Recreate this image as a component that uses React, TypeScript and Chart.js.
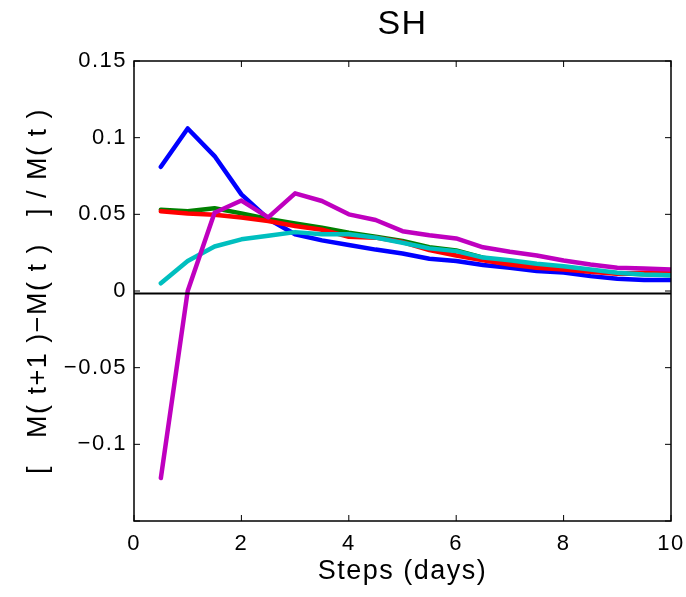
import React, { useEffect, useRef } from 'react';
import { Chart, registerables } from 'chart.js';

Chart.register(...registerables);

// ---- data ----
const steps = [0.5, 1, 1.5, 2, 2.5, 3, 3.5, 4, 4.5, 5, 5.5, 6, 6.5, 7, 7.5, 8, 8.5, 9, 9.5, 10];
const seriesBlue = [0.081, 0.106, 0.088, 0.063, 0.047, 0.037, 0.033, 0.030, 0.027, 0.0245, 0.021, 0.0195, 0.017, 0.0152, 0.013, 0.012, 0.0097, 0.008, 0.0071, 0.0071];
const seriesGreen = [0.053, 0.052, 0.054, 0.0506, 0.047, 0.044, 0.0413, 0.038, 0.0354, 0.0326, 0.0286, 0.0265, 0.0217, 0.0185, 0.0165, 0.015, 0.013, 0.0115, 0.011, 0.0105];
const seriesRed = [0.052, 0.0505, 0.0498, 0.048, 0.0456, 0.0424, 0.040, 0.0354, 0.0348, 0.0319, 0.0267, 0.0232, 0.0200, 0.0173, 0.0152, 0.014, 0.0125, 0.0112, 0.0119, 0.0125];
const seriesCyan = [0.005, 0.0195, 0.029, 0.0337, 0.036, 0.0384, 0.037, 0.037, 0.0348, 0.0315, 0.0278, 0.026, 0.0218, 0.0201, 0.0178, 0.0162, 0.014, 0.0119, 0.0108, 0.0103];
const seriesMagenta = [-0.122, 0.0, 0.051, 0.059, 0.048, 0.0637, 0.0587, 0.050, 0.0463, 0.039, 0.0363, 0.0343, 0.0285, 0.0256, 0.0232, 0.0199, 0.0173, 0.0152, 0.0147, 0.014];

const zeroLineX = [0, 10];
const zeroLineY = [-0.0017, -0.0017];

const xTicks = [0, 2, 4, 6, 8, 10];
const xTickLabels = ['0', '2', '4', '6', '8', '10'];
const yTicks = [-0.15, -0.1, -0.05, 0, 0.05, 0.1, 0.15];
const yTickLabels = ['', '\u22120.1', '\u22120.05', '0', '0.05', '0.1', '0.15'];

const titleText = 'SH';
const xTitle = 'Steps (days)';
const yTitle = '[   M( t+1 )\u2212M( t )   ] / M( t )';

const FONT = "'Liberation Sans', Arial, Helvetica, sans-serif";

function pts(xs: number[], ys: number[]) {
  return xs.map((x, i) => ({ x, y: ys[i] }));
}

function labelFor(values: number[], labels: string[], v: number) {
  const i = values.findIndex((t) => Math.abs(t - v) < 1e-9);
  return i >= 0 ? labels[i] : '';
}

const spacingPlugin = {
  id: 'letterSpacing',
  beforeUpdate(chart: any) {
    try { chart.ctx.letterSpacing = '1.5px'; } catch (e) {}
  },
  beforeDraw(chart: any) {
    try { chart.ctx.letterSpacing = '1.5px'; } catch (e) {}
  },
};

const boxPlugin = {
  id: 'matlabBox',
  afterDatasetsDraw(chart: any) {
    const { ctx, chartArea } = chart;
    const { left, right, top, bottom } = chartArea;
    const xs = chart.scales.x;
    const ys = chart.scales.y;
    const tl = 6;
    ctx.save();
    ctx.strokeStyle = '#000';
    ctx.lineWidth = 1;
    ctx.beginPath();
    xTicks.forEach((v) => {
      const px = xs.getPixelForValue(v);
      ctx.moveTo(px, bottom);
      ctx.lineTo(px, bottom - tl);
      ctx.moveTo(px, top);
      ctx.lineTo(px, top + tl);
    });
    yTicks.forEach((v) => {
      const py = ys.getPixelForValue(v);
      ctx.moveTo(left, py);
      ctx.lineTo(left + tl, py);
      ctx.moveTo(right, py);
      ctx.lineTo(right - tl, py);
    });
    ctx.stroke();
    ctx.lineWidth = 1.5;
    ctx.strokeRect(left, top, right - left, bottom - top);
    ctx.restore();
  },
};

export default function App() {
  const ref = useRef<HTMLCanvasElement | null>(null);

  useEffect(() => {
    if (!ref.current) return;
    const lineDs = (data: any, color: string, width = 4.5) => ({
      data,
      borderColor: color,
      backgroundColor: color,
      borderWidth: width,
      pointRadius: 0,
      fill: false,
      tension: 0,
      borderCapStyle: 'round',
      borderJoinStyle: 'round',
    });
    const chart = new Chart(ref.current, {
      type: 'line',
      data: {
        datasets: [
          lineDs(pts(zeroLineX, zeroLineY), '#000000', 2),
          lineDs(pts(steps, seriesMagenta), '#BF00BF'),
          lineDs(pts(steps, seriesCyan), '#00BFBF'),
          lineDs(pts(steps, seriesRed), '#FF0000'),
          lineDs(pts(steps, seriesGreen), '#008000'),
          lineDs(pts(steps, seriesBlue), '#0000FF'),
        ] as any,
      },
      options: {
        responsive: false,
        animation: false,
        devicePixelRatio: 1,
        layout: { padding: { left: 0, right: 15, top: 0, bottom: 0 } },
        plugins: {
          legend: { display: false },
          tooltip: { enabled: false },
          title: {
            display: true,
            text: titleText,
            color: '#000',
            fullSize: false,
            font: { family: FONT, size: 34, weight: 'normal' },
            padding: { top: 4.6, bottom: 15.6 },
          },
        },
        scales: {
          x: {
            type: 'linear',
            min: 0,
            max: 10,
            grid: { display: false, drawTicks: false },
            border: { display: false },
            afterBuildTicks: (s: any) => { s.ticks = xTicks.map((v) => ({ value: v })); },
            afterFit: (s: any) => { s.height = 76; s.paddingLeft = 0; s.paddingRight = 0; },
            ticks: {
              color: '#000',
              padding: 10,
              maxRotation: 0,
              autoSkip: false,
              font: { family: FONT, size: 22 },
              callback: (v: any) => labelFor(xTicks, xTickLabels, Number(v)),
            },
            title: {
              display: true,
              text: xTitle,
              color: '#000',
              font: { family: FONT, size: 27 },
              padding: { top: 0, bottom: 8.8 },
            },
          },
          y: {
            type: 'linear',
            min: -0.15,
            max: 0.15,
            grid: { display: false, drawTicks: false },
            border: { display: false },
            afterBuildTicks: (s: any) => { s.ticks = yTicks.map((v) => ({ value: v })); },
            afterFit: (s: any) => { s.width = 134; },
            ticks: {
              color: '#000',
              padding: 7,
              autoSkip: false,
              font: { family: FONT, size: 22 },
              callback: (v: any) => labelFor(yTicks, yTickLabels, Number(v)),
            },
            title: {
              display: true,
              text: yTitle,
              color: '#000',
              font: { family: FONT, size: 27 },
              padding: { top: 22.8, bottom: 0 },
            },
          },
        },
      } as any,
      plugins: [spacingPlugin, boxPlugin] as any,
    });
    return () => chart.destroy();
  }, []);

  return (
    <div style={{ position: 'fixed', left: 0, top: 0, width: 686, height: 597, background: '#fff' }}>
      <canvas ref={ref} width={686} height={597} style={{ width: 686, height: 597, display: 'block' }} />
    </div>
  );
}
